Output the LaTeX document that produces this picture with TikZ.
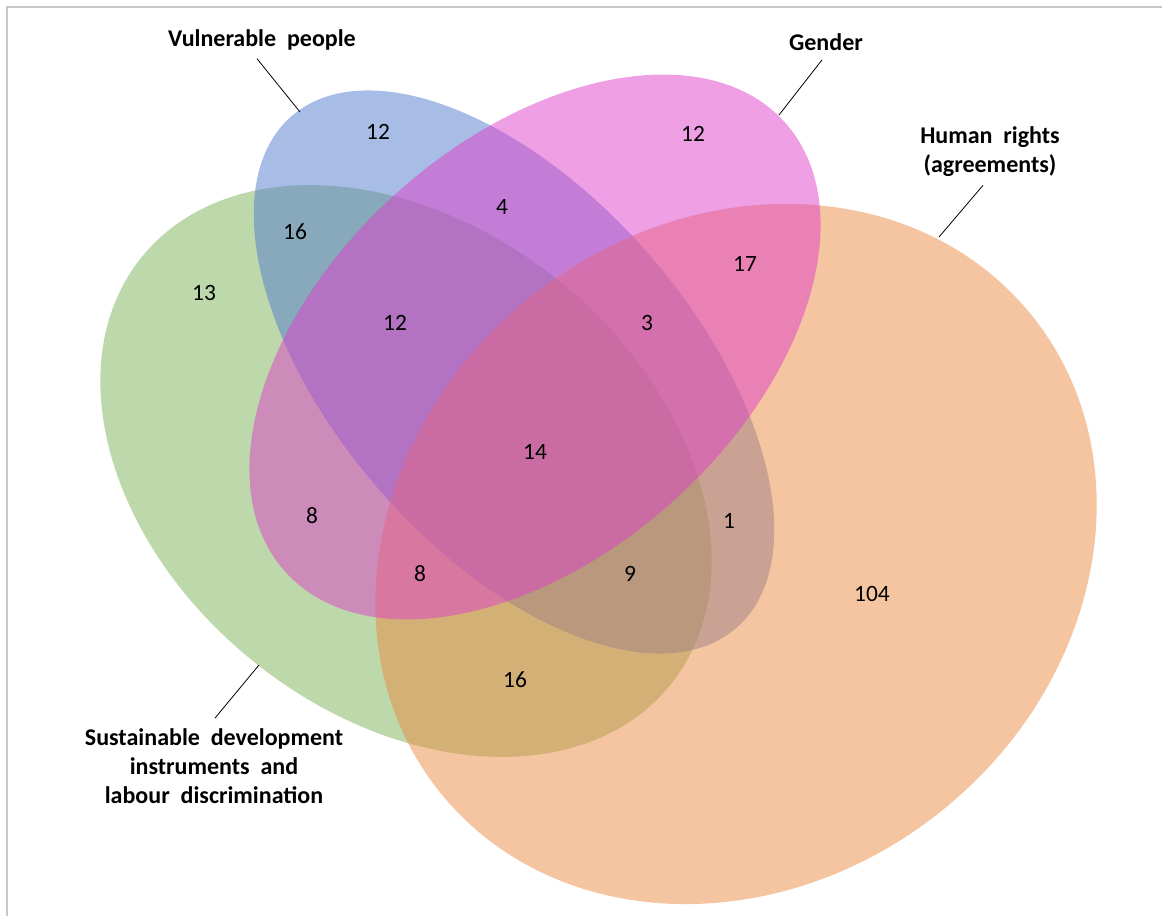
\documentclass[tikz,border=0pt]{standalone}
\usepackage{fontspec}
\setmainfont{Carlito}
\usetikzlibrary{positioning}

\definecolor{sdgreen}{RGB}{123,179,89}
\definecolor{vulnblue}{RGB}{81,123,203}
\definecolor{hrorange}{RGB}{235,137,65}
\definecolor{genpink}{RGB}{223,63,201}
\definecolor{framegray}{RGB}{200,200,200}

\begin{document}
\begin{tikzpicture}[
    x=0.5pt, y=-0.5pt,
    setarea/.style={fill opacity=0.5},
    count/.style={inner sep=0pt, font=\fontsize{11.7}{14}\selectfont},
    setlabel/.style={inner sep=0pt, align=center, font=\bfseries\fontsize{12}{14.5}\selectfont},
    leader/.style={draw=black, line width=0.4pt}
]
\useasboundingbox (0,0) rectangle (1162,916);

% frame
\draw[framegray, line width=1pt] (6.5,916) -- (6.5,7) -- (1162,7);

% sets
\fill[sdgreen, setarea, rotate around={-39:(406,471)}] (406,471) ellipse [x radius=340, y radius=244];
\fill[vulnblue, setarea, rotate around={-49:(514,372)}] (514,372) ellipse [x radius=339, y radius=179];
\fill[hrorange, setarea, rotate around={39:(736,554)}] (736,554) ellipse [x radius=380, y radius=329];
\fill[genpink, setarea, rotate around={42:(535,347)}] (535,347) ellipse [x radius=336, y radius=207];

% counts
\node[count] (vonly) at (378,132) {12};
\node[count] (gonly) at (693,134) {12};
\node[count] (vs) at (295,232) {16};
\node[count] (vg) at (502,207) {4};
\node[count] (sonly) at (204,293) {13};
\node[count] (gh) at (745,264) {17};
\node[count] (vgs) at (395,323) {12};
\node[count] (vgh) at (647,323) {3};
\node[count] (all) at (535,452) {14};
\node[count] (gs) at (312,516) {8};
\node[count] (vh) at (729,521) {1};
\node[count] (gsh) at (420,574) {8};
\node[count] (vsh) at (630,574) {9};
\node[count] (honly) at (872,594) {104};
\node[count] (sh) at (515,680) {16};

% labels
\node[setlabel] (vlabel) at (262,40) {Vulnerable\ \ people};
\node[setlabel] (glabel) at (826,42) {Gender};
\node[setlabel] (hlabel) at (990,152) {Human\ \ rights\\(agreements)};
\node[setlabel] (slabel) at (214,766) {Sustainable\ \ development\\instruments\ \ and\\labour\ \ discrimination};

% leader lines
\coordinate (vtip) at (300,112);
\coordinate (gtip) at (779,115);
\coordinate (htip) at (939,237);
\coordinate (stip) at (259,665);
\draw[leader] (vlabel.south) ++(-5,8) -- (vtip);
\draw[leader] (glabel.south) ++(-4,9) -- (gtip);
\draw[leader] (hlabel.south) ++(-7,8) -- (htip);
\draw[leader] (slabel.north) ++(1,-10) -- (stip);

\end{tikzpicture}
\end{document}
